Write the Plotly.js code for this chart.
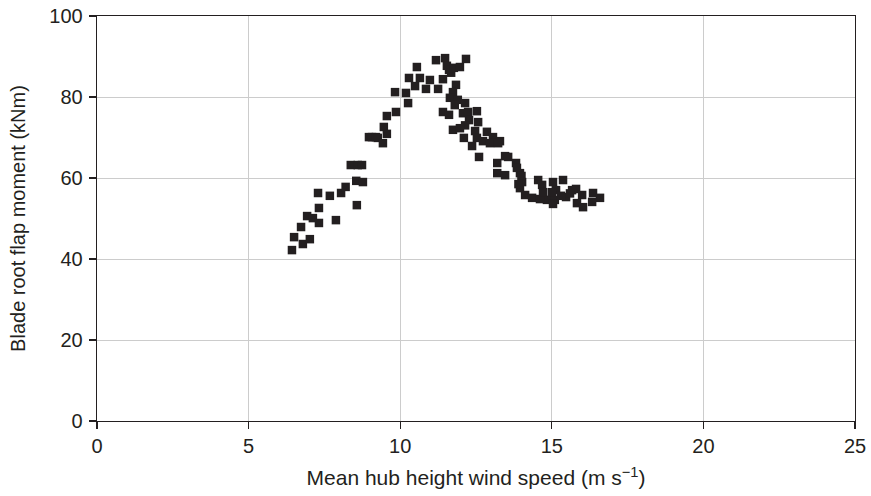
<!DOCTYPE html>
<html><head><meta charset="utf-8">
<script src="https://cdn.plot.ly/plotly-3.0.1.min.js"></script>
<style>body{margin:0;background:#fff}#c{width:871px;height:496px}</style>
</head><body><div id="c"></div>
<script>
const windSpeed = [6.43,6.5,6.73,6.79,6.93,7.02,7.12,7.29,7.32,7.32,7.68,7.88,8.05,8.2,8.37,8.55,8.57,8.6,8.74,8.77,
8.97,9.07,9.2,9.26,9.43,9.46,9.56,9.56,9.83,9.86,10.19,10.26,10.29,10.49,10.55,10.65,10.85,10.98,11.18,11.25,
11.41,11.48,11.54,11.61,11.68,11.77,11.97,12.17,11.84,11.74,11.64,11.9,11.8,12.14,11.41,11.61,12.07,12.24,12.53,12.27,
12.57,12.14,11.74,11.97,12.47,12.86,12.1,12.53,12.73,13.06,13.29,12.37,12.96,12.6,13.46,13.23,13.2,13.56,13.82,13.2,
13.46,13.95,14.02,13.95,14.55,14.68,15.04,15.14,14.12,14.35,14.84,15.1,14.61,15.37,14.71,15.0,15.04,15.67,15.8,16.0,
15.47,15.83,16.03,16.36,16.59,16.33,13.85,14.0,13.9,15.3,15.6];
const flapMoment = [42.2,45.4,47.9,43.7,50.6,44.9,50.1,56.3,52.6,48.9,55.6,49.6,56.3,57.8,63.2,59.3,53.3,63.2,63.2,59,
70.1,70.1,70.1,69.9,68.6,72.6,70.9,75.3,81.2,76.3,81,78.5,84.7,82.7,87.4,84.7,82,84.2,89.1,82,
84.4,89.6,87.7,86.7,86,87.2,87.4,89.4,83,81.2,79.8,79.3,78,78.5,76.3,75.6,76,76.3,76.5,74.3,
73.8,73,71.9,72.3,71.6,71.4,69.9,69.9,69.1,70.1,69.1,67.9,68.6,65.2,65.4,68.6,63.7,65.2,63.7,61.2,
60.7,61.2,59,57.5,59.5,58.3,59,57,55.8,55.1,54.6,54.6,54.8,59.5,56.5,56.5,53.6,57,57.3,55.8,
55.3,53.8,52.8,56.3,55.1,54.1,62.5,60.5,58.5,55.6,56.2];
const xTicks = [0,5,10,15,20,25];
const yTicks = [0,20,40,60,80,100];

const FONT = 'Liberation Sans, Arial, sans-serif';
const axisCommon = {
  showline:true, linecolor:'#231f20', linewidth:1.3, mirror:true,
  showgrid:true, gridcolor:'#cccccc', gridwidth:1, zeroline:false,
  ticks:'outside', ticklen:7, tickcolor:'#231f20', tickwidth:1.3,
  tickfont:{family:FONT, size:20, color:'#231f20'}, automargin:false
};
Plotly.newPlot('c', [{
  x: windSpeed, y: flapMoment, type:'scatter', mode:'markers',
  marker:{symbol:'square', size:8.5, color:'#231f20'}
}], {
  width:871, height:496,
  margin:{l:97, r:16, t:16, b:75},
  paper_bgcolor:'#fff', plot_bgcolor:'#fff',
  showlegend:false,
  xaxis: Object.assign({}, axisCommon, {range:[0,25], tickvals:xTicks,
    title:{text:'Mean hub height wind speed (m s<sup>−1</sup>)', standoff:14,
      font:{family:FONT, size:21, color:'#231f20'}}}),
  yaxis: Object.assign({}, axisCommon, {range:[0,100], tickvals:yTicks, ticklabelstandoff:2,
    title:{text:'Blade root flap moment (kNm)', standoff:18,
      font:{family:FONT, size:20, color:'#231f20'}}})
}, {displayModeBar:false, staticPlot:true});
</script></body></html>
